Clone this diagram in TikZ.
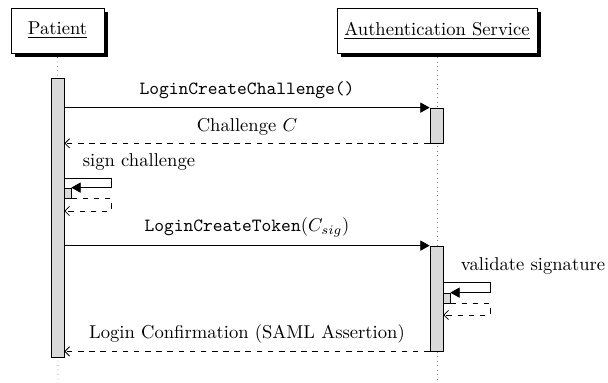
\documentclass[tikz,border=0pt]{standalone}
\usetikzlibrary{arrows.meta,shadows}
\def\u{0.5376pt}
\tikzset{
  inst/.style={draw, fill=white, inner sep=0pt, minimum height=45*\u,
    drop shadow={shadow xshift=2.3pt, shadow yshift=-2.3pt, fill=black, opacity=1}},
  life/.style={draw=gray, dotted},
  act/.style={draw, fill=gray!30, inner sep=0pt},
  call/.style={draw, -{Triangle[length=5pt,width=5.5pt]}},
  ret/.style={draw, dashed, -{Straight Barb[length=2.5pt,width=5pt]}},
  lbl/.style={inner sep=0pt}
}
\begin{document}
\begin{tikzpicture}[x=0.5376pt,y=-0.5376pt]
\useasboundingbox (0,0) rectangle (608,383);
% lifelines
\coordinate (Pend) at (58,383);
\coordinate (Aend) at (437,383);
\node[inst, minimum width=93*\u] (P) at (57.5,30.5) {\underline{Patient}};
\node[inst, minimum width=200*\u] (A) at (437,30.5) {\underline{Authentication Service}};
\draw[life] (P.south) ++(0,-2pt) -- (Pend);
\draw[life] (A.south) ++(0,-2pt) -- (Aend);
% activations
\node[act, minimum width=13*\u, minimum height=279*\u] (PA) at (57.5,217.5) {};
\node[act, minimum width=13*\u, minimum height=35*\u] (A1) at (436.5,125.5) {};
\node[act, minimum width=13*\u, minimum height=105*\u] (A2) at (436.5,298.5) {};
\node[act, minimum width=7*\u, minimum height=10*\u] (S1) at (67.5,193) {};
\node[act, minimum width=7*\u, minimum height=10*\u] (S2) at (446.5,298) {};
% call 1
\draw[call] (PA.east |- A1.north) -- node[midway, above, yshift=1pt] {\texttt{LoginCreateChallenge()}} (A1.north west);
\draw[ret] (A1.south west) -- node[midway, above, yshift=1pt] {Challenge $C$} (PA.east |- A1.south);
% self call 1
\coordinate (s1a) at (111,178);
\coordinate (s1b) at (111,211);
\node[lbl] (L1) at (139,162) {sign challenge};
\draw[call] (PA.east |- s1a) -- (s1a) |- (S1.north east);
\draw[ret] (S1.south east) -- (S1.south east -| s1b) -- (s1b) -- (PA.east |- s1b);
% call 2
\draw[call] (PA.east |- A2.north) -- node[midway, above, yshift=1pt] {\texttt{LoginCreateToken}($C_{sig}$)} (A2.north west);
% self call 2
\coordinate (s2a) at (490,282);
\coordinate (s2b) at (490,315);
\node[lbl] (L2) at (533,266) {validate signature};
\draw[call] (A2.east |- s2a) -- (s2a) |- (S2.north east);
\draw[ret] (S2.south east) -- (S2.south east -| s2b) -- (s2b) -- (A2.east |- s2b);
% return 2
\draw[ret] (A2.south west) -- node[midway, above, yshift=1pt] {Login Confirmation (SAML Assertion)} (PA.east |- A2.south);
\end{tikzpicture}
\end{document}
